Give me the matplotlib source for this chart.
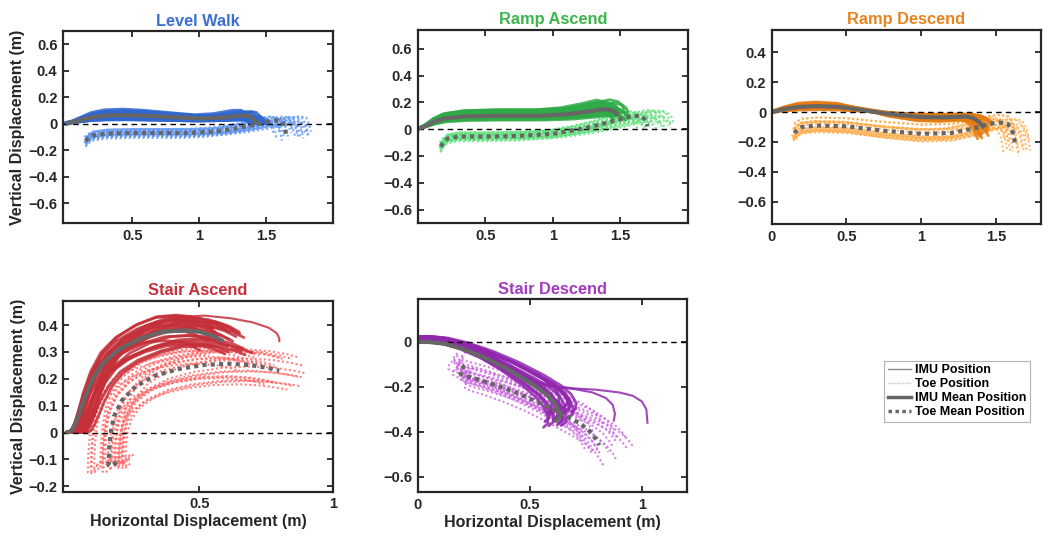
import matplotlib
matplotlib.use('Agg')
import matplotlib.pyplot as plt
from matplotlib.lines import Line2D
import numpy as np

plt.rcParams['font.family'] = ['Liberation Sans', 'DejaVu Sans']
plt.rcParams['font.weight'] = 'bold'
plt.rcParams['axes.labelweight'] = 'bold'
plt.rcParams['axes.titleweight'] = 'bold'

MEANCOL = '#666666'
TICKSIZE = 10.5
LABSIZE = 11.5

# ---------------- Level Walk ----------------
lw_imu_x = [0, 0.05, 0.1, 0.2, 0.3, 0.45, 0.6, 0.8, 1.0, 1.15, 1.3, 1.37, 1.41, 1.43]
lw_imu_y = [0, 0.012, 0.025, 0.05, 0.062, 0.065, 0.06, 0.05, 0.04, 0.045, 0.06, 0.06, 0.03, 0.0]
lw_toe_x = [0.15, 0.17, 0.2, 0.3, 0.5, 0.7, 0.9, 1.1, 1.25, 1.4, 1.5, 1.58, 1.62, 1.64, 1.65]
lw_toe_y = [-0.13, -0.11, -0.09, -0.075, -0.07, -0.07, -0.07, -0.06, -0.04, -0.01, 0.015, 0.025, 0.015, -0.04, -0.09]
# trial variations (sx, sy, dx, dy)
lw_imu_trials = [(0.96, 1.7, 0, 0), (0.97, 1.5, 0, 0), (0.98, 1.35, 0, 0), (0.99, 1.2, 0, 0),
                 (1.0, 1.1, 0, 0), (1.01, 1.0, 0, 0), (1.02, 0.9, 0, 0), (1.03, 0.8, 0, 0),
                 (1.04, 0.7, 0, 0), (1.05, 0.6, 0, 0), (0.97, 0.5, 0, 0), (0.98, 0.4, 0, 0.005),
                 (1.0, 0.3, 0, 0.01), (1.02, 1.6, 0, -0.005), (1.04, 1.45, 0, 0), (0.99, 0.85, 0, 0.01),
                 (1.01, 1.25, 0, 0.005), (1.03, 0.55, 0, 0.005), (0.96, 1.05, 0, 0), (1.06, 0.95, 0, 0)]
lw_toe_trials = [(0.93, 1, 0.02, 0.01), (0.95, 1, 0.01, -0.02), (0.97, 1.1, 0, 0.025), (0.99, 0.9, 0, -0.03),
                 (1.0, 1, 0, 0.02), (1.01, 1.2, 0, -0.01), (1.03, 1, 0, 0.03), (1.04, 0.8, 0, -0.025),
                 (1.05, 1, 0, 0.0), (1.06, 1.3, -0.01, 0.015), (1.07, 1, -0.01, -0.015), (1.08, 1.1, -0.01, 0.025),
                 (1.09, 0.9, -0.02, -0.03), (1.1, 1, -0.02, 0.005), (1.11, 1.2, -0.02, 0.02), (1.12, 1, -0.03, -0.01),
                 (0.96, 1, 0.02, 0.03), (0.98, 1.1, 0.0, -0.03), (1.02, 0.9, 0.0, 0.01), (1.13, 1, -0.03, 0.03)]

# ---------------- Ramp Ascend ----------------
ra_imu_x = [0, 0.05, 0.12, 0.2, 0.35, 0.6, 0.9, 1.1, 1.25, 1.38, 1.44, 1.47, 1.48]
ra_imu_y = [0, 0.02, 0.055, 0.08, 0.095, 0.1, 0.1, 0.11, 0.13, 0.15, 0.14, 0.12, 0.10]
ra_toe_x = [0.17, 0.19, 0.22, 0.3, 0.5, 0.75, 1.0, 1.2, 1.35, 1.5, 1.6, 1.66, 1.69, 1.7]
ra_toe_y = [-0.13, -0.1, -0.07, -0.055, -0.055, -0.05, -0.035, 0.0, 0.035, 0.075, 0.1, 0.095, 0.06, 0.02]
ra_imu_trials = [(0.96, 1.45, 0, 0), (0.97, 1.35, 0, 0), (0.98, 1.25, 0, 0), (0.99, 1.15, 0, 0),
                 (1.0, 1.05, 0, 0), (1.01, 0.95, 0, 0), (1.02, 0.85, 0, 0), (1.03, 0.75, 0, 0),
                 (1.04, 0.68, 0, 0), (1.05, 1.3, 0, 0), (0.97, 0.8, 0, 0.005), (0.98, 0.7, 0, 0.005),
                 (1.0, 1.4, 0, -0.005), (1.02, 1.2, 0, 0), (1.04, 1.0, 0, 0.005), (0.99, 0.9, 0, 0.01),
                 (1.01, 1.1, 0, 0.005), (1.03, 1.5, 0, -0.005), (0.96, 1.0, 0, 0), (1.06, 0.9, 0, 0)]
ra_toe_trials = [(0.93, 1, 0.02, 0.01), (0.95, 1, 0.01, -0.02), (0.97, 1.1, 0, 0.025), (0.99, 0.9, 0, -0.03),
                 (1.0, 1, 0, 0.02), (1.01, 1.2, 0, -0.01), (1.03, 1, 0, 0.03), (1.04, 0.8, 0, -0.025),
                 (1.05, 1, 0, 0.0), (1.06, 1.3, -0.01, 0.015), (1.07, 1, -0.01, -0.015), (1.08, 1.1, -0.01, 0.025),
                 (1.09, 0.9, -0.02, -0.03), (1.1, 1, -0.02, 0.005), (1.11, 1.2, -0.02, 0.02), (1.12, 1, -0.03, -0.01),
                 (0.96, 1, 0.02, 0.03), (0.98, 1.1, 0.0, -0.03), (1.02, 0.9, 0.0, 0.01), (1.13, 1, -0.03, 0.03)]

# ---------------- Ramp Descend ----------------
rd_imu_x = [0, 0.08, 0.18, 0.3, 0.45, 0.6, 0.8, 1.0, 1.15, 1.3, 1.35, 1.39, 1.42]
rd_imu_y = [0, 0.02, 0.035, 0.04, 0.035, 0.015, -0.015, -0.033, -0.035, -0.03, -0.04, -0.07, -0.105]
rd_toe_x = [0.15, 0.17, 0.2, 0.3, 0.5, 0.75, 1.0, 1.2, 1.35, 1.45, 1.52, 1.58, 1.61, 1.63]
rd_toe_y = [-0.14, -0.12, -0.1, -0.09, -0.095, -0.125, -0.145, -0.14, -0.11, -0.08, -0.07, -0.08, -0.13, -0.22]
rd_imu_trials = [(0.97, 1.7, 0, 0), (0.98, 1.55, 0, 0), (0.99, 1.4, 0, 0), (1.0, 1.25, 0, 0),
                 (1.01, 1.1, 0, 0), (1.02, 0.95, 0, 0), (1.03, 0.8, 0, 0), (1.04, 0.65, 0, 0),
                 (0.98, 0.5, 0, 0), (1.0, 0.4, 0, 0), (0.99, 1.6, 0, -0.005), (1.01, 1.3, 0, 0.005),
                 (1.02, 1.15, 0, 0), (1.03, 0.7, 0, 0.005), (0.97, 0.9, 0, 0.0), (1.0, 1.0, 0, 0.01),
                 (1.02, 1.45, 0, -0.005), (0.98, 0.6, 0, 0.005)]
rd_toe_trials = [(0.95, 1, 0.01, 0.03), (0.96, 1, 0.01, -0.03), (0.97, 1.1, 0, 0.04), (0.98, 1, 0, -0.04),
                 (0.99, 1.2, 0, 0.0), (1.0, 0.8, 0, 0.035), (1.01, 1.1, 0, 0.02), (1.02, 1.3, -0.01, -0.01),
                 (1.03, 1, 0, -0.025), (1.04, 1.2, -0.01, 0.01), (1.05, 0.9, -0.01, 0.015), (1.06, 1.1, -0.02, -0.02),
                 (1.07, 1, -0.02, 0.025), (0.94, 1.2, 0.02, -0.015), (1.0, 0.9, 0.0, 0.045), (1.02, 1.0, -0.01, -0.045),
                 (1.08, 1.2, -0.03, 0.005), (0.97, 0.9, 0.01, 0.015)]

# ---------------- Stair Ascend ----------------
sa_imu_x = [0.0, 0.02, 0.035, 0.05, 0.07, 0.1, 0.14, 0.2, 0.28, 0.36, 0.44, 0.5, 0.55, 0.59]
sa_imu_y = [0, 0.005, 0.03, 0.07, 0.13, 0.2, 0.26, 0.31, 0.35, 0.375, 0.38, 0.375, 0.36, 0.34]
sa_toe_x = [0.19, 0.17, 0.16, 0.162, 0.168, 0.18, 0.21, 0.26, 0.33, 0.42, 0.52, 0.62, 0.7, 0.76, 0.8]
sa_toe_y = [-0.11, -0.125, -0.12, -0.06, 0.0, 0.06, 0.12, 0.17, 0.21, 0.236, 0.252, 0.256, 0.25, 0.24, 0.23]
sa_imu_out_x = [0, 0.03, 0.06, 0.1, 0.16, 0.24, 0.33, 0.42, 0.52, 0.62, 0.7, 0.76, 0.79, 0.8, 0.8]
sa_imu_out_y = [0, 0.01, 0.07, 0.16, 0.26, 0.34, 0.4, 0.43, 0.435, 0.425, 0.41, 0.39, 0.37, 0.35, 0.34]
sa_imu_trials = [(0.85, 0.9, 0.0, 0), (0.9, 1.0, 0.0, 0), (0.95, 1.1, 0.0, 0), (1.0, 0.95, 0.01, 0),
                 (1.05, 1.12, 0.01, 0), (1.0, 0.88, 0.02, 0), (1.03, 1.05, 0.03, 0), (1.06, 0.92, 0.04, 0),
                 (1.02, 1.08, 0.05, 0), (0.92, 1.15, 0.01, 0), (0.96, 0.86, 0.03, 0), (0.98, 1.13, 0.02, 0),
                 (1.04, 1.1, 0.0, 0), (1.08, 0.9, 0.02, 0), (0.88, 1.05, 0.02, 0), (0.97, 1.02, 0.04, 0),
                 (1.0, 1.1, 0.06, 0), (1.1, 0.87, 0.05, 0), (0.94, 0.95, 0.05, 0), (1.02, 0.85, 0.07, 0),
                 (0.9, 1.07, 0.04, 0), (1.06, 1.0, 0.0, 0), (0.93, 1.14, 0.0, 0), (1.08, 1.04, 0.03, 0)]
sa_toe_trials = [(0.85, 1.0, -0.03, 0.0), (0.9, 1.15, -0.05, 0.01), (0.95, 0.85, 0.02, -0.01), (1.0, 1.05, -0.02, 0.01),
                 (1.05, 0.9, 0.03, 0.0), (1.1, 1.2, -0.04, 0.0), (1.0, 0.8, 0.05, -0.01), (0.92, 1.0, 0.0, 0.02),
                 (1.08, 1.15, 0.01, 0.015), (0.88, 0.85, 0.04, -0.015), (1.12, 1.0, -0.01, 0.02), (0.97, 1.2, -0.06, 0.0),
                 (1.02, 0.75, 0.06, 0.0), (0.9, 1.05, 0.07, 0.0), (0.95, 1.15, -0.07, -0.01), (1.04, 1.1, -0.03, 0.025),
                 (0.98, 0.9, 0.0, -0.02), (1.06, 0.85, 0.04, 0.01), (0.93, 1.18, -0.02, 0.015), (1.1, 1.0, 0.02, -0.01),
                 (1.0, 0.78, 0.03, -0.02), (0.96, 1.1, 0.05, 0.02)]

# ---------------- Stair Descend ----------------
sd_imu_x = [0, 0.05, 0.12, 0.2, 0.3, 0.4, 0.5, 0.57, 0.61, 0.63, 0.63, 0.61]
sd_imu_y = [0, 0.0, -0.008, -0.03, -0.07, -0.12, -0.18, -0.23, -0.27, -0.31, -0.34, -0.355]
sd_toe_x = [0.21, 0.195, 0.19, 0.21, 0.28, 0.36, 0.45, 0.55, 0.65, 0.72, 0.77, 0.8, 0.81]
sd_toe_y = [-0.105, -0.12, -0.14, -0.15, -0.17, -0.196, -0.23, -0.275, -0.325, -0.36, -0.4, -0.44, -0.46]
sd_imu_out1_x = [0, 0.1, 0.2, 0.3, 0.4, 0.5, 0.6, 0.7, 0.78, 0.84, 0.87, 0.88, 0.875]
sd_imu_out1_y = [0, 0.01, -0.02, -0.07, -0.12, -0.17, -0.2, -0.21, -0.225, -0.25, -0.28, -0.32, -0.35]
sd_imu_out2_x = [0, 0.1, 0.2, 0.3, 0.4, 0.5, 0.6, 0.7, 0.8, 0.9, 0.96, 1.0, 1.02, 1.025]
sd_imu_out2_y = [0, 0.012, -0.02, -0.07, -0.12, -0.165, -0.195, -0.207, -0.213, -0.225, -0.24, -0.265, -0.3, -0.36]
sd_imu_trials = [(0.95, 0.95, 0, 0.02), (1.0, 1.0, 0, 0.015), (1.05, 1.05, 0, 0.0), (0.98, 0.9, 0, 0.01),
                 (1.02, 1.1, 0, 0.02), (0.93, 1.0, 0, 0.0), (1.07, 0.95, 0, 0.02), (1.0, 0.85, 0, 0.025),
                 (0.96, 1.08, 0, 0.01), (1.04, 0.92, 0, 0.005), (1.1, 1.0, 0, 0.02), (0.97, 0.98, 0, 0.025),
                 (1.03, 1.02, 0, 0.0), (1.08, 0.9, 0, 0.015), (0.99, 1.05, 0, 0.02), (1.06, 0.85, 0, 0.01),
                 (0.92, 1.1, 0, 0.01), (1.12, 0.95, 0, 0.025)]
sd_toe_trials = [(0.9, 1.0, 0.0, 0.03), (0.95, 1.05, 0.01, -0.02), (1.0, 0.95, -0.03, 0.04), (1.05, 1.0, 0.0, -0.03),
                 (1.1, 1.02, -0.02, 0.0), (1.15, 0.98, -0.04, 0.02), (0.97, 1.1, 0.03, 0.0), (1.02, 0.9, 0.0, 0.05),
                 (1.08, 1.05, 0.01, -0.04), (1.22, 0.95, -0.06, 0.01), (0.92, 1.0, 0.04, -0.03), (1.25, 1.0, -0.05, -0.01),
                 (0.94, 0.9, -0.02, 0.045), (1.0, 1.1, 0.02, -0.05), (1.12, 0.92, -0.03, 0.03), (1.04, 1.05, -0.04, 0.0),
                 (0.98, 1.0, -0.05, 0.02), (1.06, 0.95, 0.03, -0.015), (0.9, 1.08, 0.02, 0.01), (1.18, 1.0, -0.02, -0.02)]

titles = ['Level Walk', 'Ramp Ascend', 'Ramp Descend', 'Stair Ascend', 'Stair Descend']
title_cols = ['#3b6fd4', '#3cb54b', '#e8841e', '#c8313b', '#a23bbf']
imu_cols = ['#2f66cf', '#2eaa47', '#e47c12', '#c52f38', '#9127ad']
toe_cols = ['#5f96f2', '#5fe07b', '#ffab48', '#ff6262', '#c964df']

panels = [
    dict(imu=(lw_imu_x, lw_imu_y), toe=(lw_toe_x, lw_toe_y), it=lw_imu_trials, tt=lw_toe_trials, extra=[],
         pos=[0.0599, 0.584, 0.257, 0.358], xlim=(-0.02, 2.0), xt=[0.5, 1, 1.5],
         ylim=(-0.75, 0.7), yt=[-0.6, -0.4, -0.2, 0, 0.2, 0.4, 0.6]),
    dict(imu=(ra_imu_x, ra_imu_y), toe=(ra_toe_x, ra_toe_y), it=ra_imu_trials, tt=ra_toe_trials, extra=[],
         pos=[0.3974, 0.584, 0.2572, 0.360], xlim=(0.0, 2.0), xt=[0.5, 1, 1.5],
         ylim=(-0.7, 0.74), yt=[-0.6, -0.4, -0.2, 0, 0.2, 0.4, 0.6]),
    dict(imu=(rd_imu_x, rd_imu_y), toe=(rd_toe_x, rd_toe_y), it=rd_imu_trials, tt=rd_toe_trials, extra=[],
         pos=[0.7343, 0.582, 0.256, 0.362], xlim=(0.0, 1.8), xt=[0, 0.5, 1, 1.5],
         ylim=(-0.75, 0.55), yt=[-0.6, -0.4, -0.2, 0, 0.2, 0.4]),
    dict(imu=(sa_imu_x, sa_imu_y), toe=(sa_toe_x, sa_toe_y), it=sa_imu_trials, tt=sa_toe_trials,
         extra=[(sa_imu_out_x, sa_imu_out_y)],
         pos=[0.0602, 0.0827, 0.2563, 0.356], xlim=(-0.01, 1.0), xt=[0.5, 1],
         ylim=(-0.22, 0.49), yt=[-0.2, -0.1, 0, 0.1, 0.2, 0.3, 0.4]),
    dict(imu=(sd_imu_x, sd_imu_y), toe=(sd_toe_x, sd_toe_y), it=sd_imu_trials, tt=sd_toe_trials,
         extra=[(sd_imu_out1_x, sd_imu_out1_y), (sd_imu_out2_x, sd_imu_out2_y)],
         pos=[0.3974, 0.0815, 0.256, 0.360], xlim=(0.0, 1.2), xt=[0, 0.5, 1],
         ylim=(-0.67, 0.19), yt=[-0.6, -0.4, -0.2, 0]),
]


def fmt(v):
    if v == 0:
        return '0'
    s = ('%g' % v)
    return s.replace('-', '\u2212')


fig = plt.figure(figsize=(10.51, 5.36), dpi=100)

for k, p in enumerate(panels):
    ax = fig.add_axes(p['pos'])
    ix = np.array(p['imu'][0]); iy = np.array(p['imu'][1])
    tx = np.array(p['toe'][0]); ty = np.array(p['toe'][1])
    # individual toe trials
    for (sx, sy, dx, dy) in p['tt']:
        ax.plot(tx * sx + dx, ty * sy + dy, color=toe_cols[k], lw=1.5,
                linestyle=(0, (1, 1.2)), alpha=0.8)
    # individual IMU trials
    for (sx, sy, dx, dy) in p['it']:
        ax.plot(ix * sx + dx, iy * sy + dy, color=imu_cols[k], lw=2.0, alpha=0.85,
                solid_capstyle='round', solid_joinstyle='round')
    for ex, ey in p['extra']:
        ax.plot(ex, ey, color=imu_cols[k], lw=1.5, alpha=0.85)
    ax.axhline(0, color='black', lw=1.0, linestyle=(0, (4, 3)))
    ax.plot(ix, iy, color=MEANCOL, lw=3.0, solid_capstyle='butt', solid_joinstyle='round')
    ax.plot(tx, ty, color=MEANCOL, lw=3.0, linestyle=(0, (1, 1)))

    ax.set_xlim(p['xlim'])
    ax.set_ylim(p['ylim'])
    ax.set_xticks(p['xt'])
    ax.set_xticklabels([fmt(v) for v in p['xt']])
    ax.set_yticks(p['yt'])
    ax.set_yticklabels([fmt(v) for v in p['yt']])
    ax.tick_params(direction='in', top=True, right=True, length=4, width=1.3,
                   labelsize=TICKSIZE, colors='#262626', pad=4)
    for lab in ax.get_xticklabels() + ax.get_yticklabels():
        lab.set_fontweight('bold')
    for sp in ax.spines.values():
        sp.set_linewidth(1.6)
        sp.set_color('#262626')
    ax.set_title(titles[k], color=title_cols[k], fontsize=11.8, fontweight='bold', pad=4)
    if k in (0, 3):
        ax.set_ylabel('Vertical Displacement (m)', fontsize=LABSIZE, color='#262626', labelpad=2)
    if k in (3, 4):
        ax.set_xlabel('Horizontal Displacement (m)', fontsize=LABSIZE, color='#262626', labelpad=2)

handles = [Line2D([], [], color='#8c8c8c', lw=1.0),
           Line2D([], [], color='#bdbdbd', lw=1.0, linestyle=(0, (1, 1))),
           Line2D([], [], color=MEANCOL, lw=2.5),
           Line2D([], [], color=MEANCOL, lw=2.5, linestyle=(0, (1, 1)))]
labels = ['IMU Position', 'Toe Position', 'IMU Mean Position', 'Toe Mean Position']
leg = fig.legend(handles, labels, loc='upper left', bbox_to_anchor=(0.841, 0.327),
                 fontsize=9, frameon=True, fancybox=False, handlelength=1.9,
                 handletextpad=0.25, labelspacing=0.15, borderpad=0.3, borderaxespad=0)
leg.get_frame().set_edgecolor('#a0a0a0')
leg.get_frame().set_linewidth(0.8)
for t in leg.get_texts():
    t.set_fontweight('bold')

fig.savefig('out.png', dpi=100)
